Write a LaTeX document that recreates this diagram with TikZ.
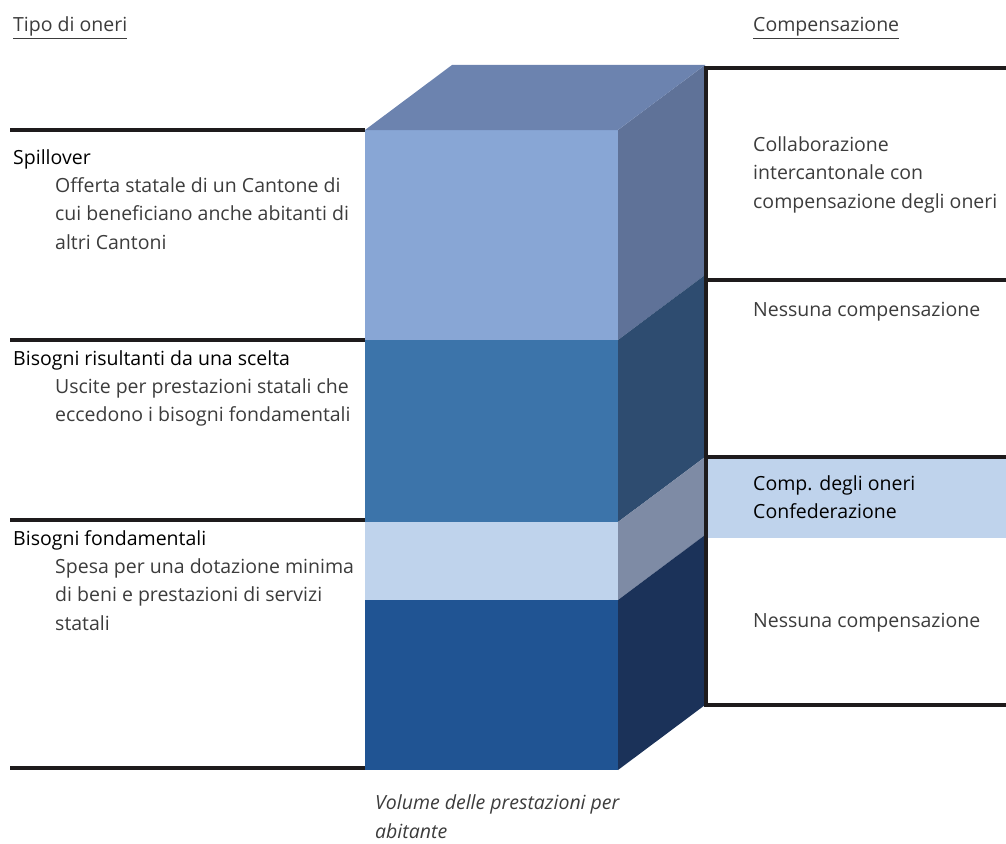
\documentclass[tikz,border=0pt]{standalone}
\usepackage{fontspec}
\setmainfont{Open Sans}
\usepackage{tikz}
\usetikzlibrary{positioning}
\definecolor{rulecol}{RGB}{30,27,28}
\definecolor{bodycol}{RGB}{60,60,60}
\definecolor{topface}{RGB}{108,131,175}
\definecolor{spillfront}{RGB}{136,166,213}
\definecolor{spillside}{RGB}{95,114,152}
\definecolor{sceltafront}{RGB}{60,116,170}
\definecolor{sceltaside}{RGB}{46,76,112}
\definecolor{fedfront}{RGB}{191,211,236}
\definecolor{fedside}{RGB}{126,139,165}
\definecolor{basefront}{RGB}{32,84,147}
\definecolor{baseside}{RGB}{27,50,89}
\newcommand{\txtfont}{\fontsize{19.5}{28.5}\selectfont}

\begin{document}
\begin{tikzpicture}[
    x=1pt, y=-1pt,
    rule/.style={line width=3.2pt, draw=rulecol},
    head/.style={anchor=base west, inner sep=0pt, align=left, font=\txtfont, text=black},
    body/.style={anchor=base west, inner sep=0pt, align=left, font=\txtfont, text=bodycol},
    colhead/.style={head, text=bodycol}
]
\useasboundingbox (0,0) rectangle (1006,843);

% cube: front face
\fill[spillfront] (365,130) rectangle (618,340);
\fill[sceltafront] (365,340) rectangle (618,522);
\fill[fedfront] (365,522) rectangle (618,600);
\fill[basefront] (365,600) rectangle (618,770);
% cube: side face
\fill[spillside] (618,130) -- (705,65) -- (705,275) -- (618,340) -- cycle;
\fill[sceltaside] (618,340) -- (705,275) -- (705,457) -- (618,522) -- cycle;
\fill[fedside] (618,522) -- (705,457) -- (705,535) -- (618,600) -- cycle;
\fill[baseside] (618,600) -- (705,535) -- (705,705) -- (618,770) -- cycle;
% cube: top face
\fill[topface] (365,130) -- (452,65) -- (705,65) -- (618,130) -- cycle;

% band for the federal compensation
\fill[fedfront] (706,457) rectangle (1006,538);

% rules
\draw[rule] (10,130) -- (365,130);
\draw[rule] (10,340) -- (365,340);
\draw[rule] (10,520) -- (365,520);
\draw[rule] (10,768) -- (365,768);
\draw[rule] (1006,68) -- (706,68) -- (706,705) -- (1006,705);
\draw[rule] (706,280) -- (1006,280);
\draw[rule] (706,457) -- (1006,457);

% column headings
\node[colhead] (tipo) at (13,32) {\underline{Tipo di oneri}};
\node[colhead] (comp) at (753,32) {\underline{Compensazione}};

% left: types of burdens (base = last line)
\node[head] (spill) at (13,164) {Spillover};
\node[body] (spillbody) at (55,249) {Offerta statale di un Cantone di\\cui beneficiano anche abitanti di\\altri Cantoni};
\node[head] (scelta) at (13,365) {Bisogni risultanti da una scelta};
\node[body] (sceltabody) at (55,421.5) {Uscite per prestazioni statali che\\eccedono i bisogni fondamentali};
\node[head] (fond) at (13,545) {Bisogni fondamentali};
\node[body] (fondbody) at (55,630) {Spesa per una dotazione minima\\di beni e prestazioni di servizi\\statali};

% right: compensation
\node[body] (collab) at (753,208) {Collaborazione\\intercantonale con\\compensazione degli oneri};
\node[body] (nessuna1) at (753,316) {Nessuna compensazione};
\node[head] (conf) at (753,518.5) {Comp. degli oneri\\Confederazione};
\node[body] (nessuna2) at (753,627) {Nessuna compensazione};

% axis label
\node[body, font=\txtfont\itshape] (volume) at (375,838) {Volume delle prestazioni per\\abitante};
\end{tikzpicture}
\end{document}
